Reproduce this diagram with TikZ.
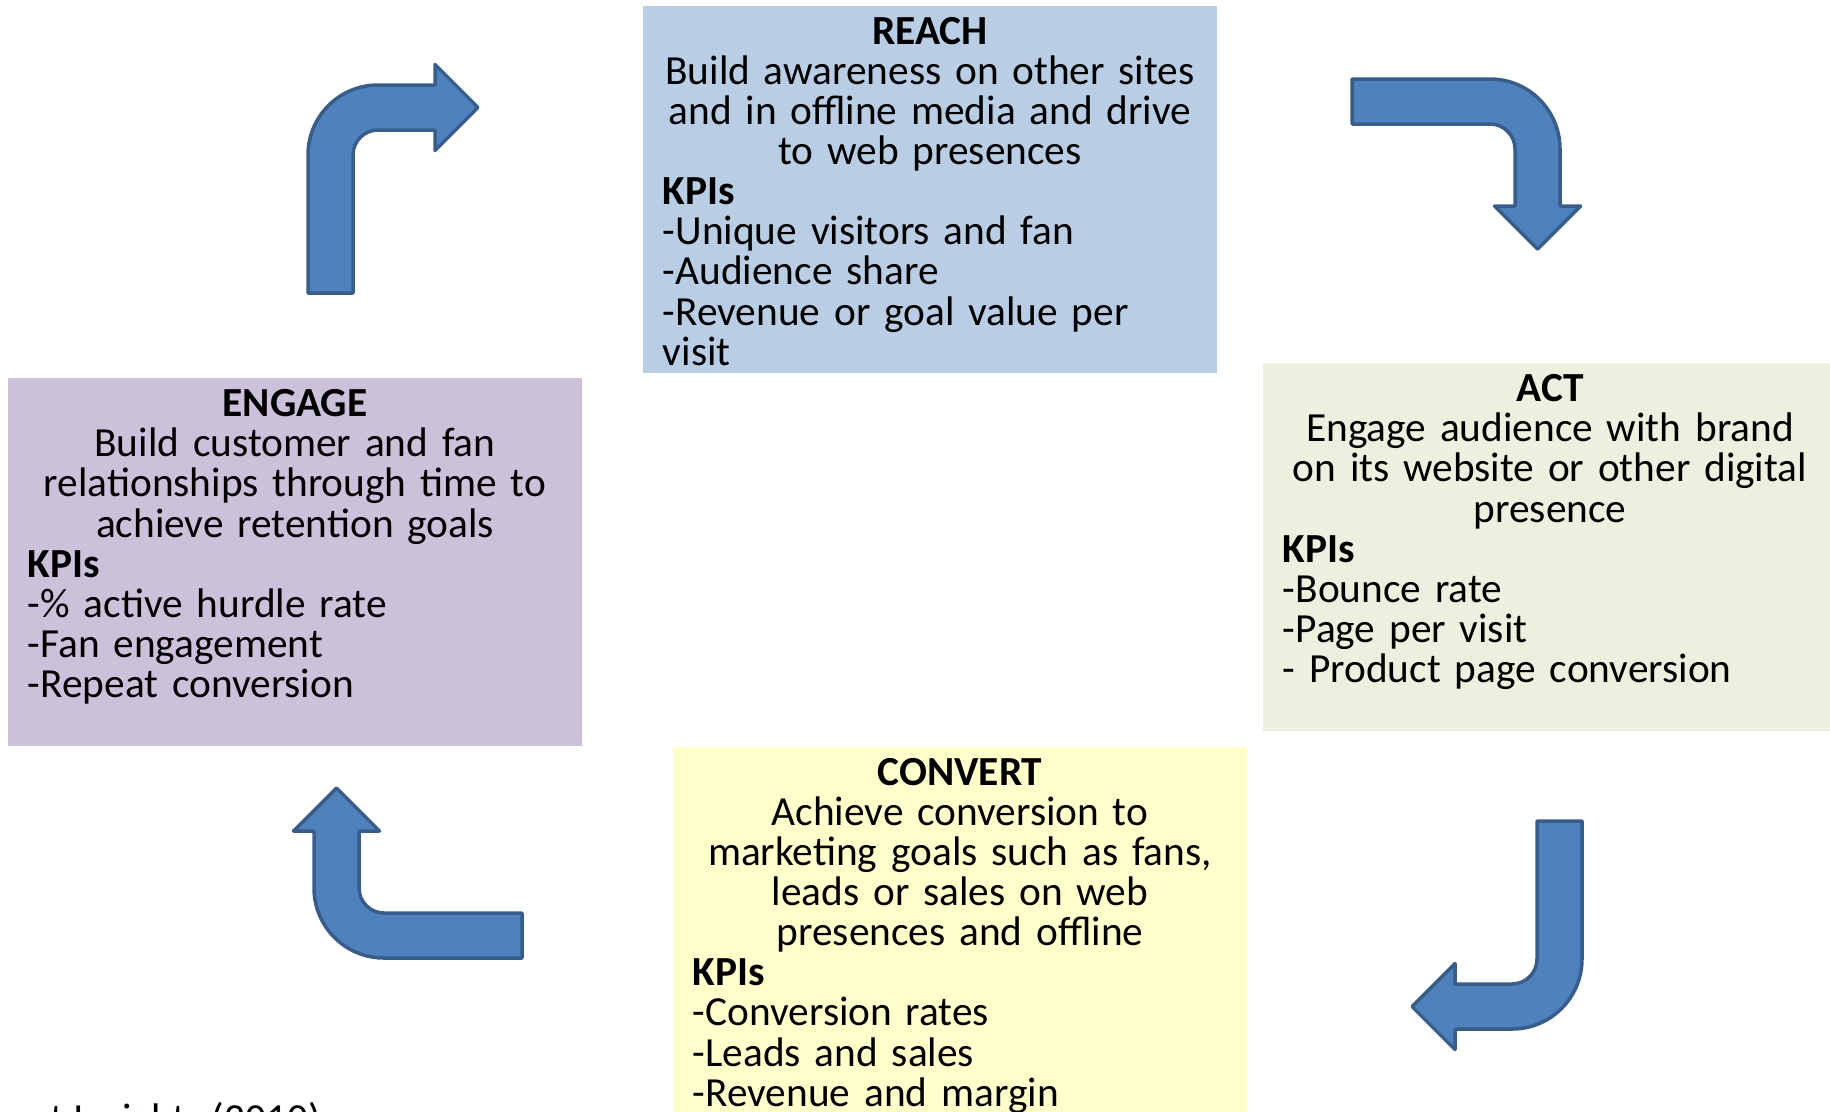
\documentclass[tikz,border=0pt]{standalone}
\usepackage{fontspec}
\setmainfont{Carlito}
\usetikzlibrary{calc}

\definecolor{reachblue}{HTML}{B9CDE5}
\definecolor{engagelilac}{HTML}{CCC1DA}
\definecolor{actgreen}{HTML}{EBF1DE}
\definecolor{convertyellow}{HTML}{FFFFCC}
\definecolor{arrowblue}{HTML}{4F81BD}
\definecolor{arrowedge}{HTML}{385D8A}

\newcommand{\stagefont}{\fontsize{11.76}{11.41}\selectfont\lineskiplimit=-20pt\relax}
\newcommand{\ctr}[1]{\makebox[\linewidth]{#1}}

\tikzset{
  stagebox/.style={minimum width=5.74cm, minimum height=3.67cm, inner sep=0pt},
  stagetext/.style={text width=5.34cm, align=left, inner sep=0pt, anchor=base, font=\stagefont},
  arrowshape/.style={fill=arrowblue, draw=arrowedge, line width=0.035cm, line join=round},
  bentarrow/.pic={
    \draw[arrowshape] (0,208) -- (0,70) .. controls (0,31.3) and (31.3,0) .. (70,0)
      -- (127,0) -- (127,-20.5) -- (170,22.5) -- (127,65.5) -- (127,45) -- (70,45)
      .. controls (56.2,45) and (45,56.2) .. (45,70) -- (45,208) -- cycle;
  }
}

\begin{document}
\begin{tikzpicture}[x=0.01cm, y=-0.01cm]

    \useasboundingbox (0,0) rectangle (1830,1111);
    \clip (0,0) rectangle (1830,1111);

    % Boxes
    \node[stagebox, fill=reachblue] (reach) at (930,189.5) {};
    \node[stagebox, fill=engagelilac] (engage) at (295,562) {};
    \node[stagebox, fill=actgreen] (act) at (1550,547) {};
    \node[stagebox, fill=convertyellow] (convert) at (960,930.5) {};

    % Reach
    \node[stagetext] (reachtext) at ($(reach.north)+(0,39)$) {\ctr{\textbf{REACH}}\\
      \ctr{Build awareness on other sites}\\
      \ctr{and in offline media and drive}\\
      \ctr{to web presences}\\
      \textbf{KPIs}\\
      -Unique visitors and fan\\
      -Audience share\\
      -Revenue or goal value per\\
      visit};

    % Act
    \node[stagetext] (acttext) at ($(act.north)+(0,39)$) {\ctr{\textbf{ACT}}\\
      \ctr{Engage audience with brand}\\
      \ctr{on its website or other digital}\\
      \ctr{presence}\\
      \textbf{KPIs}\\
      -Bounce rate\\
      -Page per visit\\
      - Product page conversion};

    % Convert
    \node[stagetext] (converttext) at ($(convert.north)+(0,39)$) {\ctr{\textbf{CONVERT}}\\
      \ctr{Achieve conversion to}\\
      \ctr{marketing goals such as fans,}\\
      \ctr{leads or sales on web}\\
      \ctr{presences and offline}\\
      \textbf{KPIs}\\
      -Conversion rates\\
      -Leads and sales\\
      -Revenue and margin};

    % Engage
    \node[stagetext] (engagetext) at ($(engage.north)+(0,39)$) {\ctr{\textbf{ENGAGE}}\\
      \ctr{Build customer and fan}\\
      \ctr{relationships through time to}\\
      \ctr{achieve retention goals}\\
      \textbf{KPIs}\\
      -\% active hurdle rate\\
      -Fan engagement\\
      -Repeat conversion};

    % Arrows
    \pic (arrowtl) at (308,85) {bentarrow};
    \pic[rotate=-90] (arrowtr) at (1560,79) {bentarrow};
    \pic[rotate=180] (arrowbr) at (1582,1029) {bentarrow};
    \pic[rotate=90] (arrowbl) at (314,958) {bentarrow};

    % Source
    \node[anchor=base west, inner sep=0pt, font=\stagefont] (source) at (50,1132) {t Insights (2010)};

\end{tikzpicture}
\end{document}
